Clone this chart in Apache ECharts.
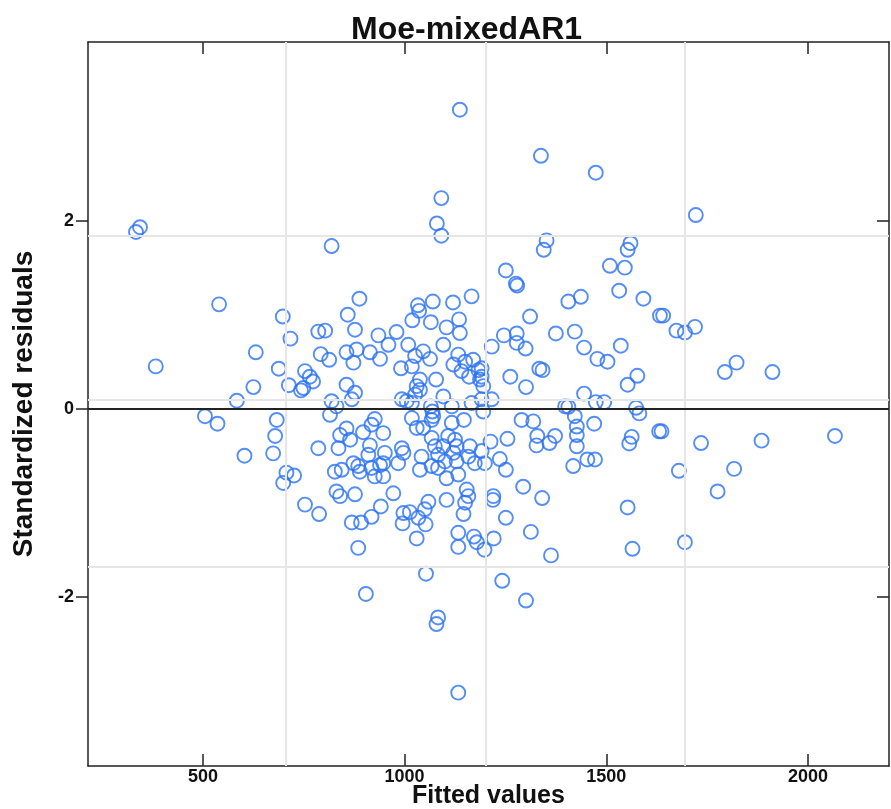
<!DOCTYPE html>
<html>
<head>
<meta charset="utf-8">
<script src="https://cdn.jsdelivr.net/npm/echarts@6/dist/echarts.min.js"></script>
<style>
html,body{margin:0;padding:0;background:#fff;}
#chart{width:891px;height:809px;}
</style>
</head>
<body>
<div id="chart"></div>
<script>
// fitted values (x) and standardized residuals (y)
var fitted = [1137,1338,1474,1091,1080,1091,819,334,344,1722,1352,1345,1560,1553,1251,1276,1279,1509,1546,1532,
  1592,1437,1406,888,1166,1070,1120,1033,1641,1674,1695,1720,1794,1823,1912,1637,1735,1885,2067,1680,
  1817,1776,1695,540,698,717,631,383,688,713,743,625,584,505,536,683,679,674,603,707,
  726,699,753,788,869,892,918,941,885,997,995,1013,1034,1052,1050,1030,1053,904,1083,1079,
  1133,1146,1133,1133,1172,1179,1198,1150,1219,1341,1553,1251,1313,1221,1363,1565,1242,1301,859,1036,
  1019,1065,1104,1135,1137,786,803,877,935,980,960,1009,1096,856,881,914,939,792,813,873,
  1026,1046,1063,991,1018,1133,1150,1170,1121,1141,1160,1183,1187,753,765,773,749,856,877,869,
  819,831,815,1038,1030,1038,1026,1078,1096,993,1005,1018,1065,1069,1071,1067,1117,1166,1018,1030,
  1046,1117,1147,926,918,947,897,856,840,865,914,910,836,786,951,947,993,997,984,1067,
  1075,1096,1083,1108,1125,1129,1121,1129,1100,1042,1067,873,885,918,939,827,844,889,926,947,
  1038,1083,1104,1133,1158,1174,1191,1162,1154,1158,831,840,877,972,1104,1059,1633,1311,1246,1278,
  1216,1278,1300,1375,1422,1445,1536,1478,1503,1334,1342,1262,1301,1577,1553,1445,1474,1495,1216,1191,
  1195,1191,1191,1398,1406,1574,1582,1195,1290,1319,1422,1427,1427,1427,1470,1631,1213,1255,1329,1327,
  1359,1373,1563,1557,1199,1236,1251,1453,1472,1418,1294,1220];
var resid = [3.18,2.69,2.51,2.24,1.97,1.84,1.73,1.88,1.93,2.06,1.79,1.69,1.76,1.69,1.47,1.33,1.31,1.52,1.50,1.255,
  1.17,1.19,1.14,1.17,1.195,1.14,1.13,1.10,0.99,0.83,0.81,0.87,0.39,0.49,0.39,-0.24,-0.365,-0.34,-0.29,-0.66,
  -0.64,-0.88,-1.42,1.11,0.98,0.745,0.60,0.45,0.425,0.25,0.195,0.23,0.085,-0.08,-0.16,-0.12,-0.29,-0.475,-0.5,-0.68,
  -0.71,-0.79,-1.02,-1.12,-1.21,-1.21,-1.15,-1.04,-1.48,-1.11,-1.22,-1.10,-1.16,-1.23,-1.07,-1.38,-1.755,-1.97,-2.22,-2.29,
  -3.02,-1.12,-1.32,-1.47,-1.36,-1.42,-1.50,-1.0,-0.97,-0.95,-1.05,-1.16,-1.31,-1.38,-1.56,-1.49,-1.83,-2.04,1.0,1.04,
  0.94,0.92,0.865,0.95,0.805,0.82,0.83,0.84,0.78,0.815,0.68,0.68,0.68,0.60,0.63,0.60,0.53,0.58,0.52,0.49,
  0.56,0.61,0.53,0.43,0.45,0.575,0.50,0.52,0.47,0.40,0.34,0.41,0.31,0.40,0.34,0.29,0.22,0.255,0.17,0.10,
  0.08,0.025,-0.065,0.31,0.24,0.20,0.15,0.31,0.13,0.10,0.08,0.06,0.025,-0.03,-0.08,-0.12,0.025,0.06,-0.10,-0.205,
  -0.205,-0.15,-0.12,-0.11,-0.17,-0.26,-0.25,-0.21,-0.28,-0.33,-0.39,-0.49,-0.42,-0.42,-0.47,-0.58,-0.42,-0.47,-0.58,-0.31,
  -0.40,-0.40,-0.49,-0.29,-0.33,-0.40,-0.47,-0.56,-0.56,-0.51,-0.61,-0.58,-0.61,-0.63,-0.60,-0.67,-0.65,-0.67,-0.72,-0.72,
  -0.65,-0.63,-0.74,-0.70,-0.51,-0.58,-0.45,-0.40,-0.86,-0.93,-0.88,-0.93,-0.91,-0.90,-0.97,-0.99,0.99,0.98,0.78,0.80,
  0.66,0.70,0.64,0.80,0.82,0.65,0.67,0.53,0.50,0.425,0.41,0.34,0.23,0.35,0.255,0.16,0.07,0.07,0.10,0.10,
  0.24,0.43,0.34,0.025,0.02,0.01,-0.05,-0.03,-0.12,-0.135,-0.08,-0.19,-0.28,-0.40,-0.16,-0.24,-0.35,-0.32,-0.29,-0.39,
  -0.365,-0.29,-0.30,-0.37,-0.58,-0.535,-0.65,-0.54,-0.54,-0.61,-0.83,-0.93];
var xTicks = [500, 1000, 1500, 2000];
var yTicks = [-2, 0, 2];
// light reference grid (as drawn in the original panel)
var vGrid = [706, 1202, 1694];
var hGrid = [1.84, 0.085, -1.68];

var xMin = 215, xMax = 2201, yMin = -3.8, yMax = 3.9;
var font = "'Liberation Sans', Arial, sans-serif";
var boxLine = {color: '#222', width: 1.5};

var points = [];
for (var i = 0; i < fitted.length; i++) {
    points.push([fitted[i], resid[i]]);
}

var chart = echarts.init(document.getElementById('chart'));

function xAx(pos, main) {
    return {
        type: 'value', position: pos, min: xMin, max: xMax,
        splitLine: {show: false},
        axisLine: {show: true, onZero: false, lineStyle: boxLine},
        axisTick: {show: true, inside: true, customValues: xTicks, length: 12, lineStyle: boxLine},
        axisLabel: {show: main, customValues: xTicks, fontSize: 18, fontWeight: 'bold', color: '#111',
            fontFamily: font, margin: 2, formatter: function (v) { return String(v); }},
        name: main ? 'Fitted values' : '',
        nameLocation: 'middle', nameGap: 17, nameMoveOverlap: false,
        nameTextStyle: {fontSize: 25, fontWeight: 'bold', color: '#111', fontFamily: font,
            verticalAlign: 'top', lineHeight: 26}
    };
}
function yAx(pos, main) {
    return {
        type: 'value', position: pos, min: yMin, max: yMax,
        splitLine: {show: false},
        axisLine: {show: true, onZero: false, lineStyle: boxLine},
        axisTick: {show: true, inside: !main, customValues: yTicks, length: 12, lineStyle: boxLine},
        axisLabel: {show: main, customValues: yTicks, fontSize: 18, fontWeight: 'bold', color: '#111',
            fontFamily: font, margin: 14},
        name: main ? 'Standardized residuals' : '',
        nameLocation: 'middle', nameGap: 50,
        nameTextStyle: {fontSize: 28, fontWeight: 'bold', color: '#111', fontFamily: font}
    };
}

var gridLines = [];
vGrid.forEach(function (v) { gridLines.push({xAxis: v}); });
hGrid.forEach(function (v) { gridLines.push({yAxis: v}); });

var option = {
    backgroundColor: '#fff',
    animation: false,
    title: {
        text: 'Moe-mixedAR1', left: 346, top: 9,
        textStyle: {fontSize: 32, fontWeight: 'bold', color: '#111', fontFamily: font}
    },
    grid: {left: 88, right: 2, top: 42, bottom: 43, outerBoundsMode: 'none', containLabel: false},
    xAxis: [xAx('bottom', true), xAx('top', false)],
    yAxis: [yAx('left', true), yAx('right', false)],
    series: [
        {
            type: 'scatter', data: [], z: 1, silent: true,
            markLine: {
                silent: true, symbol: 'none', label: {show: false},
                lineStyle: {color: '#e6e6e6', width: 2, type: 'solid'},
                data: gridLines
            }
        },
        {
            type: 'scatter', data: points, z: 3,
            symbol: 'circle', symbolSize: 14,
            itemStyle: {color: 'rgba(0,0,0,0)', borderColor: '#2a72f2', borderWidth: 1.9}
        },
        {
            type: 'scatter', data: [], z: 4, silent: true,
            markLine: {
                silent: true, symbol: 'none', label: {show: false},
                lineStyle: {color: '#222', width: 1.8, type: 'solid'},
                data: [{yAxis: 0}]
            }
        }
    ]
};
chart.setOption(option);
</script>
</body>
</html>
